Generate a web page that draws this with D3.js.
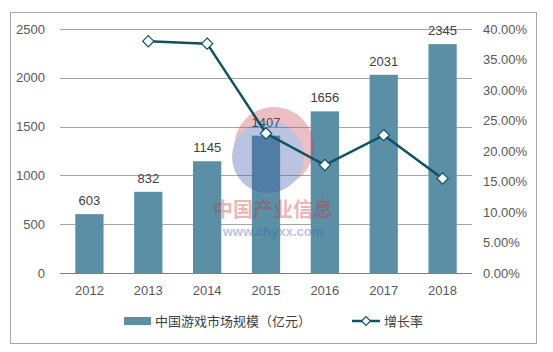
<!DOCTYPE html>
<html>
<head>
<meta charset="utf-8">
<script src="https://cdn.jsdelivr.net/npm/d3@7"></script>
<style>
  body { margin: 0; background: #fff; }
  text { font-family: "Liberation Sans", Arial, "Noto Sans CJK SC", sans-serif; }
</style>
</head>
<body>
<div id="chart"></div>
<script>
const years = ["2012", "2013", "2014", "2015", "2016", "2017", "2018"];
const marketSize = [603, 832, 1145, 1407, 1656, 2031, 2345];
const growthRate = [null, 0.380, 0.376, 0.229, 0.177, 0.226, 0.155];
const leftTicks = [0, 500, 1000, 1500, 2000, 2500];
const rightTicks = [0, 0.05, 0.10, 0.15, 0.20, 0.25, 0.30, 0.35, 0.40];
const barName = "中国游戏市场规模（亿元）";
const lineName = "增长率";

const W = 553, H = 352;
const margin = { top: 29, right: 81, bottom: 79, left: 60 };
const width = W - margin.left - margin.right,
      height = H - margin.top - margin.bottom;

const barColor = "#5b8fa5", lineColor = "#0f5264";

const root = d3.select("#chart").append("svg")
  .attr("width", W).attr("height", H);

// outer frame
root.append("rect")
  .attr("x", 10.5).attr("y", 12.5)
  .attr("width", 526).attr("height", 331)
  .attr("fill", "#fff").attr("stroke", "#a6a6a6");

const svg = root.append("g")
  .attr("transform", `translate(${margin.left},${margin.top})`);

const x = d3.scaleBand().domain(years).range([0, width]).paddingInner(0.52).paddingOuter(0.26);
const y = d3.scaleLinear().domain([0, 2500]).range([height, 0]);
const y2 = d3.scaleLinear().domain([0, 0.40]).range([height, 0]);

// gridlines
svg.append("g")
  .selectAll("line").data(leftTicks.slice(1)).join("line")
  .attr("x1", 0).attr("x2", width)
  .attr("y1", d => Math.round(y(d)) + 0.5).attr("y2", d => Math.round(y(d)) + 0.5)
  .attr("stroke", "#a6a6a6");

// left axis labels
svg.append("g")
  .selectAll("text").data(leftTicks).join("text")
  .attr("x", -15).attr("y", d => y(d)).attr("dy", "0.35em")
  .attr("text-anchor", "end")
  .attr("fill", "#595959").style("font-size", "13px")
  .text(d => d);

// right axis labels
svg.append("g")
  .selectAll("text").data(rightTicks).join("text")
  .attr("x", width + 11).attr("y", d => y2(d)).attr("dy", "0.35em")
  .attr("fill", "#595959").style("font-size", "13px")
  .text(d => (d * 100).toFixed(2) + "%");

// bars
svg.append("g")
  .selectAll("rect").data(marketSize).join("rect")
  .attr("x", (d, i) => x(years[i]))
  .attr("y", d => y(d))
  .attr("width", x.bandwidth())
  .attr("height", d => height - y(d))
  .attr("fill", barColor);

// baseline
svg.append("line")
  .attr("x1", 0).attr("x2", width)
  .attr("y1", height + 0.5).attr("y2", height + 0.5)
  .attr("stroke", "#7f7f7f");

// x labels
svg.append("g")
  .selectAll("text").data(years).join("text")
  .attr("x", d => x(d) + x.bandwidth() / 2).attr("y", height + 22)
  .attr("text-anchor", "middle")
  .attr("fill", "#595959").style("font-size", "13px")
  .text(d => d);

// value labels
svg.append("g")
  .selectAll("text").data(marketSize).join("text")
  .attr("x", (d, i) => x(years[i]) + x.bandwidth() / 2)
  .attr("y", d => y(d) - 9)
  .attr("text-anchor", "middle")
  .attr("fill", "#404040").style("font-size", "13px")
  .text(d => d);

// watermark
const wm = svg.append("g").attr("opacity", 0.35);
wm.append("circle").attr("cx", 214).attr("cy", 118).attr("r", 40).attr("fill", "#c84b55");
wm.append("circle").attr("cx", 208).attr("cy", 128).attr("r", 36).attr("fill", "#3c5aa8");
wm.append("text").attr("x", 213).attr("y", 188).attr("text-anchor", "middle")
  .attr("fill", "#c8323c").style("font-size", "20px").style("font-weight", "bold")
  .style("font-family", "Noto Sans CJK SC").text("中国产业信息");
wm.append("text").attr("x", 213).attr("y", 207).attr("text-anchor", "middle")
  .attr("fill", "#3c5aa8").style("font-size", "13px").style("font-weight", "bold")
  .text("www.chyxx.com");

// growth line
const pts = growthRate.map((d, i) => ({ year: years[i], v: d })).filter(d => d.v !== null);
const line = d3.line()
  .x(d => x(d.year) + x.bandwidth() / 2)
  .y(d => y2(d.v));

svg.append("path")
  .datum(pts)
  .attr("d", line)
  .attr("fill", "none")
  .attr("stroke", lineColor)
  .attr("stroke-width", 2.5);

svg.append("g")
  .selectAll("path").data(pts).join("path")
  .attr("transform", d => `translate(${x(d.year) + x.bandwidth() / 2},${y2(d.v)})`)
  .attr("d", d3.symbol(d3.symbolDiamond2, 80))
  .attr("fill", "#fff")
  .attr("stroke", lineColor)
  .attr("stroke-width", 1.2);

// legend
const lg = root.append("g").attr("transform", "translate(0,321)");
lg.append("rect").attr("x", 124).attr("y", -4).attr("width", 27).attr("height", 8).attr("fill", barColor);
lg.append("text").attr("x", 155).attr("y", 0).attr("dy", "0.35em")
  .attr("fill", "#404040").style("font-size", "13px")
  .style("font-family", "Noto Sans CJK SC").text(barName);
lg.append("line").attr("x1", 352).attr("x2", 380).attr("y1", 0).attr("y2", 0)
  .attr("stroke", lineColor).attr("stroke-width", 2.5);
lg.append("path").attr("transform", "translate(366,0)")
  .attr("d", d3.symbol(d3.symbolDiamond2, 50))
  .attr("fill", "#fff").attr("stroke", lineColor).attr("stroke-width", 1.2);
lg.append("text").attr("x", 384).attr("y", 0).attr("dy", "0.35em")
  .attr("fill", "#404040").style("font-size", "13px")
  .style("font-family", "Noto Sans CJK SC").text(lineName);
</script>
</body>
</html>
